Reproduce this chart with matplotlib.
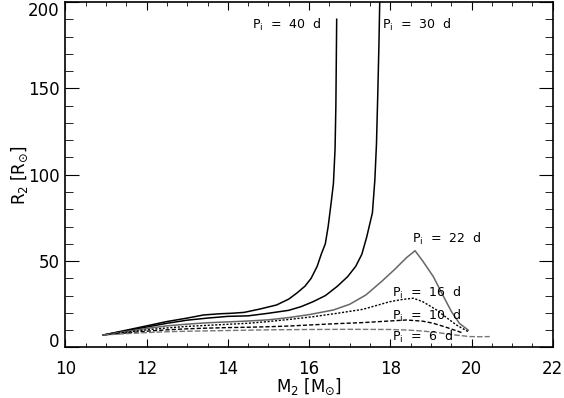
import matplotlib
matplotlib.use("Agg")
import matplotlib.pyplot as plt
from matplotlib.ticker import MultipleLocator

# --- data (M2 in Msun, R2 in Rsun) ---
m_40 = [10.93, 11.5, 12.0, 12.5, 13.0, 13.4, 13.8, 14.1, 14.4, 14.8, 15.2, 15.5,
        15.7, 15.9, 16.05, 16.2, 16.3, 16.4, 16.47, 16.55, 16.6, 16.64, 16.66,
        16.67, 16.68]
r_40 = [7.2, 10.0, 12.5, 15.0, 17.0, 18.8, 19.5, 19.8, 20.3, 22.3, 24.6, 28.0,
        31.5, 35.5, 40, 47, 54, 60, 70, 85, 95, 115, 140, 165, 190]

m_30 = [10.93, 11.5, 12.0, 12.5, 13.0, 13.5, 14.0, 14.5, 15.0, 15.5, 15.8, 16.1,
        16.4, 16.5, 16.7, 16.95, 17.15, 17.3, 17.42, 17.5, 17.56, 17.62, 17.66,
        17.69, 17.72, 17.74]
r_30 = [7.2, 9.6, 11.8, 14.0, 15.8, 17.0, 18.0, 18.3, 19.8, 21.5, 23.6, 26.5,
        30.0, 31.8, 35.5, 41, 47, 54, 64, 72, 78, 97, 118, 145, 175, 200]

m_22 = [10.93, 11.5, 12, 12.5, 13, 13.5, 14, 14.5, 15, 15.5, 16, 16.6, 17.0,
        17.4, 17.8, 18.1, 18.4, 18.61, 18.8, 19.06, 19.3, 19.5, 19.7, 19.92]
r_22 = [7.2, 9.2, 11, 12.5, 13.5, 14.3, 14.8, 15.3, 16, 17.3, 19, 21.7, 25,
        30.4, 38.5, 45, 52, 56, 50, 41, 30, 21, 14, 10]

m_16 = [10.93, 11.5, 12, 12.5, 13, 13.5, 14, 14.5, 15, 15.5, 16.1, 16.7, 17.33,
        17.99, 18.3, 18.57, 18.8, 19.14, 19.4, 19.63, 19.92]
r_16 = [7.2, 8.8, 10.2, 11.3, 12.2, 12.8, 13.4, 14.0, 15.0, 16.2, 17.8, 19.8,
        22.1, 26.5, 27.8, 28.5, 26.5, 21.7, 17, 13, 9.1]

m_10 = [10.93, 11.5, 12, 12.5, 13, 13.5, 14, 14.5, 15, 15.5, 16, 16.7, 17.33,
        17.9, 18.4, 18.8, 19.06, 19.4, 19.76]
r_10 = [7.2, 8.4, 9.4, 10.2, 10.8, 11.2, 11.5, 11.7, 12.0, 12.4, 13.0, 13.8,
        14.4, 15.2, 15.9, 15.2, 14.0, 11.5, 8.6]

m_6 = [10.93, 11.5, 12, 12.5, 13, 13.5, 14, 15, 16, 17, 18, 18.4, 18.8, 19.2,
       19.6, 19.96, 20.2, 20.45]
r_6 = [7.2, 8.0, 8.6, 9.1, 9.4, 9.6, 9.8, 10.2, 10.4, 10.5, 10.4, 10.1, 9.5,
       8.5, 7.2, 6.3, 6.2, 6.3]

labels = ["40", "30", "22", "16", "10", "6"]
label_m = [14.59, 17.79, 18.53, 18.03, 18.03, 18.03]
label_r = [186.5, 186.5, 62.8, 31.4, 18.4, 6.3]

x_ticks = [10, 12, 14, 16, 18, 20, 22]
y_ticks = [0, 50, 100, 150, 200]

fig = plt.figure(figsize=(5.64, 3.98), dpi=100)
ax = fig.add_axes([0.116, 0.127, 0.864, 0.868])

ax.plot(m_40, r_40, color="black", lw=1.1)
ax.plot(m_30, r_30, color="black", lw=1.1)
ax.plot(m_22, r_22, color="#666666", lw=1.1)
ax.plot(m_16, r_16, color="black", lw=1.0, ls=(0, (1.5, 1.2)))
ax.plot(m_10, r_10, color="black", lw=1.0, ls=(0, (3, 1.5)))
ax.plot(m_6, r_6, color="#777777", lw=1.0, ls=(0, (4, 1.5)))

for lab, xm, yr in zip(labels, label_m, label_r):
    ax.text(xm, yr, r"P$_\mathrm{i}$  =  " + lab + "  d", fontsize=9,
            ha="left", va="center")

ax.set_xlim(10, 22)
ax.set_ylim(0, 200)
ax.set_xticks(x_ticks)
ax.set_yticks(y_ticks)
ax.xaxis.set_minor_locator(MultipleLocator(0.5))
ax.yaxis.set_minor_locator(MultipleLocator(10))
ax.tick_params(which="both", direction="in", top=True, right=True,
               labelsize=12)
ax.tick_params(axis="x", which="major", length=6, pad=9)
ax.tick_params(axis="x", which="minor", length=3)
ax.tick_params(axis="y", which="major", length=10, pad=4)
ax.tick_params(axis="y", which="minor", length=6)
for s in ax.spines.values():
    s.set_linewidth(1.2)

# IDL keeps the end labels inside the axis range
yt = ax.yaxis.get_major_ticks()
yt[0].label1.set_va("baseline")
yt[-1].label1.set_va("top")

ax.set_xlabel("M$_2$ [M$_{\u2299}$]", fontsize=12)
ax.xaxis.set_label_coords(0.5, -0.113)
ax.xaxis.label.set_va("center")
ax.set_ylabel("R$_2$ [R$_{\u2299}$]", fontsize=12)
ax.yaxis.set_label_coords(-0.094, 0.5)
ax.yaxis.label.set_va("center")

fig.savefig("out.png", dpi=100)
